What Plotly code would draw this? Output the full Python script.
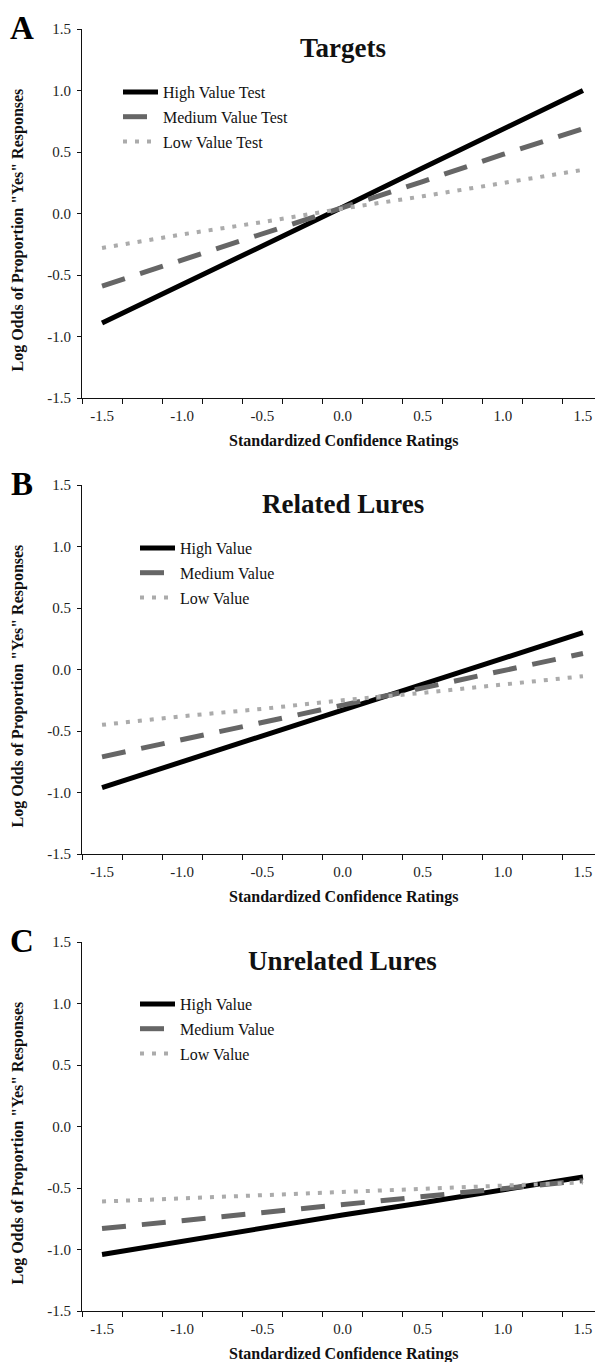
import plotly.graph_objects as go

# ---- data ----
x_ratings = [-1.5, -1.0, -0.5, 0.0, 0.5, 1.0, 1.5]
x_ticklabels = ["-1.5", "-1.0", "-0.5", "0.0", "0.5", "1.0", "1.5"]
y_tickvals = [-1.5, -1.0, -0.5, 0.0, 0.5, 1.0, 1.5]
y_ticklabels = ["-1.5", "-1.0", "-0.5", "0.0", "0.5", "1.0", "1.5"]

targets_high = [-0.89, -0.58, -0.26, 0.05, 0.37, 0.69, 1.00]
targets_medium = [-0.59, -0.38, -0.16, 0.05, 0.26, 0.48, 0.69]
targets_low = [-0.28, -0.17, -0.07, 0.04, 0.14, 0.25, 0.355]

related_high = [-0.96, -0.75, -0.54, -0.33, -0.12, 0.09, 0.30]
related_medium = [-0.71, -0.57, -0.43, -0.29, -0.15, -0.01, 0.13]
related_low = [-0.45, -0.38, -0.32, -0.25, -0.19, -0.12, -0.055]

unrelated_high = [-1.04, -0.93, -0.83, -0.72, -0.62, -0.51, -0.41]
unrelated_medium = [-0.83, -0.765, -0.70, -0.635, -0.57, -0.505, -0.44]
unrelated_low = [-0.61, -0.585, -0.56, -0.535, -0.51, -0.48, -0.455]

panel_titles = ["Targets", "Related Lures", "Unrelated Lures"]
panel_letters = ["A", "B", "C"]
legend_names = [
    ["High Value Test", "Medium Value Test", "Low Value Test"],
    ["High Value", "Medium Value", "Low Value"],
    ["High Value", "Medium Value", "Low Value"],
]
x_title = "Standardized Confidence Ratings"
y_title = "Log Odds of Proportion \"Yes\" Responses"

# ---- layout constants ----
OFF = 8  # default page body margin
W, H = 603 - OFF, 1362 - OFF
SERIF = "Liberation Serif, Times New Roman, serif"
panels = [
    (targets_high, targets_medium, targets_low),
    (related_high, related_medium, related_low),
    (unrelated_high, unrelated_medium, unrelated_low),
]
# window pixel top (y=1.5) and bottom (y=-1.5) of each plot
plot_px = [(29, 398), (485, 854), (942, 1311)]
x_left_px, x_right_px = 82, 603
legend_x_px = [118, 135, 135]
legend_top_px = [75, 531, 987]

styles = [
    dict(color="#000000", width=5),
    dict(color="#666666", width=5, dash="24px,16px"),
    dict(color="#ababab", width=4, dash="4px,8px"),
]

def py(px):
    return 1 - (px - OFF) / H

def px_(px):
    return (px - OFF) / W

fig = go.Figure()
annotations = []
minor_ticks = [-1.625 + 0.25 * k for k in range(14)]

for i, (series, (top, bot)) in enumerate(zip(panels, plot_px)):
    n = i + 1
    xa = "x" if n == 1 else f"x{n}"
    ya = "y" if n == 1 else f"y{n}"
    leg = "legend" if n == 1 else f"legend{n}"
    for j, vals in enumerate(series):
        fig.add_trace(go.Scatter(
            x=x_ratings, y=vals, mode="lines",
            name=legend_names[i][j], line=styles[j],
            xaxis=xa, yaxis=ya, legend=leg,
            legendgroup=f"p{n}s{j}", showlegend=True,
        ))
    xkey = "xaxis" if n == 1 else f"xaxis{n}"
    ykey = "yaxis" if n == 1 else f"yaxis{n}"
    fig.layout[xkey] = dict(
        domain=[px_(x_left_px), min(1.0, px_(x_right_px))], range=[-1.625, 1.625],
        anchor=ya, showgrid=False, zeroline=False,
        showline=True, linecolor="#111111", linewidth=1,
        tickmode="array", tickvals=x_ratings, ticktext=x_ticklabels,
        ticks="outside", ticklen=1, tickcolor="rgba(0,0,0,0)",
        minor=dict(tickmode="array", tickvals=minor_ticks, ticks="outside",
                   ticklen=5, tickcolor="#111111", tickwidth=1, showgrid=False),
        tickfont=dict(family=SERIF, size=15, color="#222222"),
        ticklabelstandoff=3, automargin=False, fixedrange=True,
    )
    fig.layout[ykey] = dict(
        domain=[py(bot), py(top)], range=[-1.5, 1.5],
        anchor=xa, showgrid=False, zeroline=False,
        showline=True, linecolor="#111111", linewidth=1,
        tickmode="array", tickvals=y_tickvals, ticktext=y_ticklabels,
        ticks="outside", ticklen=4, tickcolor="#111111",
        tickfont=dict(family=SERIF, size=15, color="#222222"),
        ticklabelstandoff=3, automargin=False, fixedrange=True,
    )
    fig.layout[leg] = dict(
        x=px_(legend_x_px[i]), y=py(legend_top_px[i]), xanchor="left", yanchor="top",
        xref="paper", yref="paper", bgcolor="rgba(0,0,0,0)", borderwidth=0,
        font=dict(family=SERIF, size=16, color="#111111"),
        itemwidth=35, traceorder="grouped", tracegroupgap=1,
    )
    cx = px_((x_left_px + x_right_px) / 2)
    annotations += [
        dict(text=f"<b>{panel_titles[i]}</b>", x=cx, y=py(top + 19),
             xref="paper", yref="paper", showarrow=False,
             xanchor="center", yanchor="middle",
             font=dict(family=SERIF, size=27, color="#111111")),
        dict(text=f"<b>{panel_letters[i]}</b>", x=px_(22), y=min(1.0, py(top - 21)),
             xref="paper", yref="paper", showarrow=False,
             xanchor="center", yanchor="top",
             font=dict(family=SERIF, size=33, color="#000000")),
        dict(text=f"<b>{x_title}</b>", x=px_(343), y=py(bot + 43),
             xref="paper", yref="paper", showarrow=False,
             xanchor="center", yanchor="middle",
             font=dict(family=SERIF, size=16, color="#111111")),
        dict(text=f"<b>{y_title}</b>", x=px_(17), y=py((top + bot) / 2 + 17),
             xref="paper", yref="paper", showarrow=False, textangle=-90,
             xanchor="center", yanchor="middle",
             font=dict(family=SERIF, size=16, color="#111111")),
    ]

fig.update_layout(
    width=W, height=H, margin=dict(l=0, r=0, t=0, b=0),
    paper_bgcolor="white", plot_bgcolor="white",
    annotations=annotations, showlegend=True,
)

fig.write_html("out.html")
